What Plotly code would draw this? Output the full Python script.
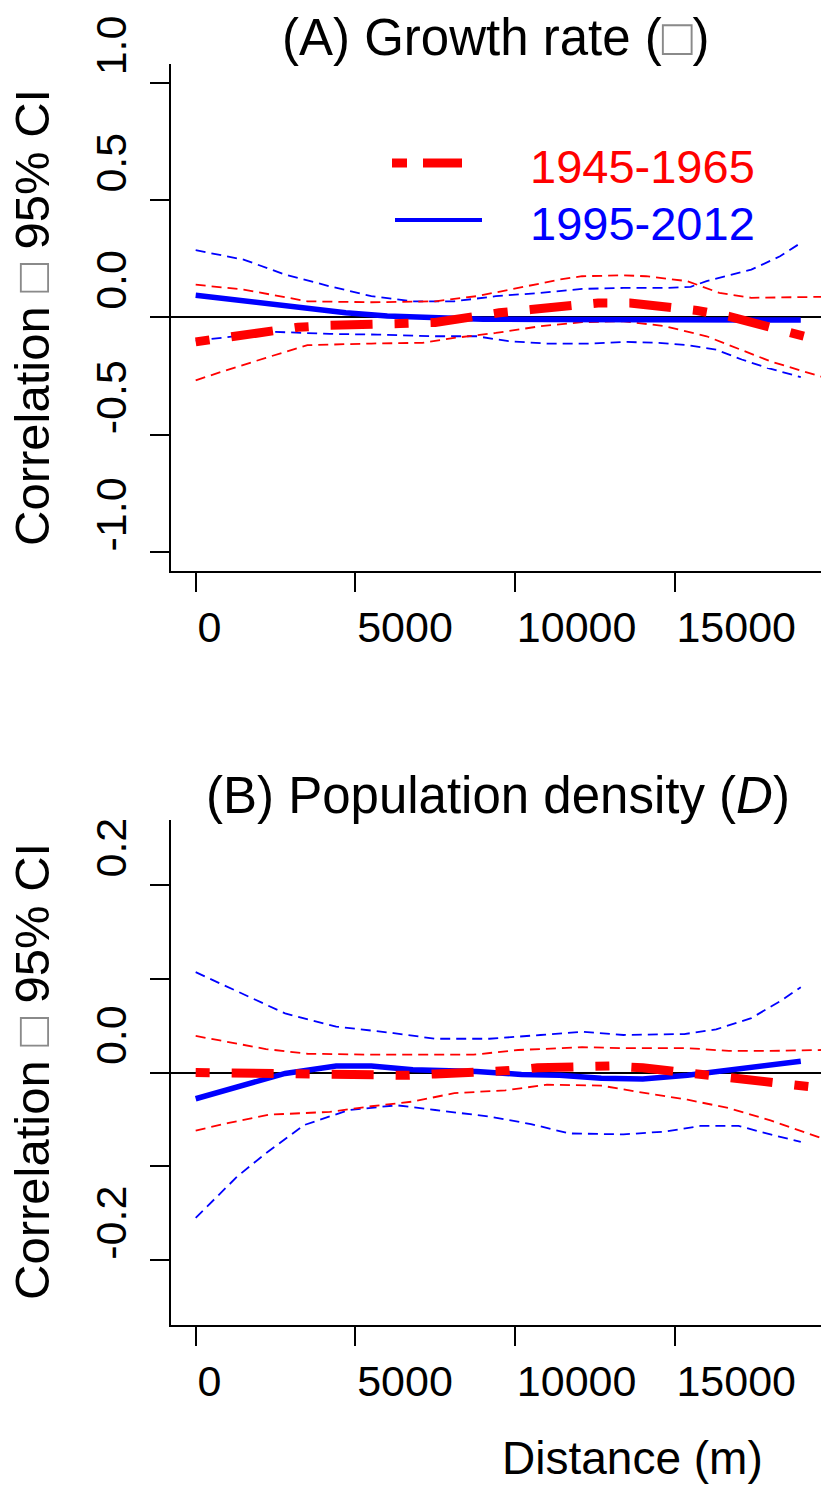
import plotly.graph_objects as go

# ---------------- data ----------------
# (A) growth rate: spatial correlation vs distance (m)
a_blue_x = [0, 1500, 3000, 4700, 6000, 7500, 9000, 11000, 13000, 15000, 17000, 18950]
a_blue_y = [0.094, 0.070, 0.042, 0.019, 0.005, -0.004, -0.008, -0.010, -0.010, -0.011, -0.012, -0.012]

a_red_x = [0, 1200, 2300, 3200, 4200, 5500, 6400, 7500, 8600, 9500, 10500, 11700,
           12600, 13600, 14800, 15700, 16700, 17800, 18700, 19300]
a_red_y = [-0.105, -0.081, -0.060, -0.043, -0.034, -0.034, -0.027, -0.022, 0.002, 0.019, 0.033, 0.054,
           0.061, 0.061, 0.047, 0.029, 0.004, -0.038, -0.070, -0.090]

a_blue_hi_x = [0, 1500, 2800, 4200, 5500, 6800, 8100, 9400, 10800, 12100, 13400, 14700, 15500, 16000, 17400, 18300, 18950]
a_blue_hi_y = [0.286, 0.246, 0.182, 0.132, 0.090, 0.068, 0.068, 0.090, 0.104, 0.121, 0.125, 0.125, 0.130, 0.154, 0.203, 0.260, 0.317]
a_blue_lo_x = [0, 2450, 4200, 5700, 7500, 8800, 9800, 11000, 12400, 13400, 14500, 15400, 16300, 17100, 17900, 18950]
a_blue_lo_y = [-0.100, -0.062, -0.071, -0.074, -0.081, -0.081, -0.102, -0.112, -0.112, -0.105, -0.109, -0.119, -0.138, -0.180, -0.216, -0.255]

a_red_hi_x = [0, 1500, 3500, 5500, 7500, 8800, 10100, 11400, 12100, 13400, 14100, 15400, 16400, 17400, 19600]
a_red_hi_y = [0.139, 0.118, 0.068, 0.064, 0.068, 0.090, 0.125, 0.161, 0.175, 0.179, 0.175, 0.154, 0.104, 0.083, 0.087]
a_red_lo_x = [0, 860, 2200, 3500, 5500, 7100, 8100, 9400, 10800, 12100, 13400, 14700, 16000, 17100, 18000, 19600]
a_red_lo_y = [-0.269, -0.230, -0.173, -0.119, -0.112, -0.109, -0.088, -0.067, -0.038, -0.021, -0.017, -0.038, -0.081, -0.138, -0.188, -0.254]

# (B) population density
b_blue_x = [0, 1500, 2800, 4400, 5500, 6800, 8800, 10200, 11400, 12700, 14000, 15400, 16700, 18000, 18950]
b_blue_y = [-0.028, -0.013, -0.001, 0.007, 0.007, 0.003, 0.001, -0.002, -0.003, -0.006, -0.007, -0.003, 0.003, 0.009, 0.012]

b_red_x = [0, 1500, 2500, 3300, 5000, 6600, 7500, 8900, 9800, 10700, 12000, 13000, 14000, 15200, 16100, 17000, 18300, 19450]
b_red_y = [0.000, -0.001, -0.0015, -0.003, -0.003, -0.003, -0.0015, 0.000, 0.002, 0.005, 0.007, 0.007, 0.005, 0.000, -0.002, -0.007, -0.012, -0.016]

b_blue_hi_x = [0, 1500, 2800, 4400, 6200, 7500, 9200, 10800, 12100, 13400, 15300, 16300, 17400, 18300, 18950]
b_blue_hi_y = [0.107, 0.083, 0.063, 0.049, 0.042, 0.036, 0.036, 0.040, 0.0435, 0.040, 0.041, 0.046, 0.058, 0.076, 0.091]
b_blue_lo_x = [0, 500, 1300, 2200, 3400, 4800, 6300, 7500, 9200, 10500, 11700, 13400, 14700, 15800, 17000, 18000, 18950]
b_blue_lo_y = [-0.155, -0.138, -0.111, -0.086, -0.056, -0.040, -0.035, -0.040, -0.047, -0.055, -0.065, -0.066, -0.063, -0.057, -0.057, -0.066, -0.074]

b_red_hi_x = [0, 900, 2200, 3500, 5500, 8700, 10100, 12100, 13400, 15400, 16700, 18000, 19600]
b_red_hi_y = [0.039, 0.033, 0.025, 0.020, 0.019, 0.019, 0.024, 0.027, 0.026, 0.026, 0.023, 0.023, 0.024]
b_red_lo_x = [0, 1000, 2300, 4200, 5500, 6800, 8100, 9700, 11000, 12700, 14100, 15400, 16700, 18000, 19600]
b_red_lo_y = [-0.062, -0.054, -0.045, -0.042, -0.036, -0.031, -0.022, -0.019, -0.013, -0.014, -0.022, -0.029, -0.038, -0.051, -0.070]

x_ticks = [0, 5000, 10000, 15000]
x_tick_text = ["0", "5000", "10000", "15000"]
a_y_ticks = [-1.0, -0.5, 0.0, 0.5, 1.0]
a_y_tick_text = ["-1.0", "-0.5", "0.0", "0.5", "1.0"]
b_y_ticks = [-0.2, -0.1, 0.0, 0.1, 0.2]
b_y_tick_text = ["-0.2", "", "0.0", "", "0.2"]

series_names = ["1945-1965", "1995-2012"]

# ---------------- styling ----------------
W, H = 821, 1486
RED, BLUE = "#ff0000", "#0000ff"
FONT = "Liberation Sans, Arial, sans-serif"
MAIN_DASH = "14px,22px,42px,22px"
CI_DASH = "10px,6px"
BOX = "<span style='color:#8a8a8a'>\u25a1</span>"


def px_x(p):
    return p / W


def px_y(p):
    return 1 - p / H


fig = go.Figure()


def add_panel(xa, ya, blue_hi, blue_lo, red_hi, red_lo, blue_mid, red_mid):
    for (xs, ys), col in ((blue_hi, BLUE), (blue_lo, BLUE), (red_hi, RED), (red_lo, RED)):
        fig.add_trace(go.Scatter(x=xs, y=ys, mode="lines", xaxis=xa, yaxis=ya, showlegend=False,
                                 line=dict(color=col, width=1.8, dash=CI_DASH)))
    fig.add_trace(go.Scatter(x=blue_mid[0], y=blue_mid[1], mode="lines", xaxis=xa, yaxis=ya,
                             showlegend=False, line=dict(color=BLUE, width=5.5)))
    fig.add_trace(go.Scatter(x=red_mid[0], y=red_mid[1], mode="lines", xaxis=xa, yaxis=ya,
                             showlegend=False, line=dict(color=RED, width=9, dash=MAIN_DASH)))


add_panel("x", "y", (a_blue_hi_x, a_blue_hi_y), (a_blue_lo_x, a_blue_lo_y),
          (a_red_hi_x, a_red_hi_y), (a_red_lo_x, a_red_lo_y),
          (a_blue_x, a_blue_y), (a_red_x, a_red_y))
add_panel("x2", "y2", (b_blue_hi_x, b_blue_hi_y), (b_blue_lo_x, b_blue_lo_y),
          (b_red_hi_x, b_red_hi_y), (b_red_lo_x, b_red_lo_y),
          (b_blue_x, b_blue_y), (b_red_x, b_red_y))

x_dom = [px_x(171), 1.0]
x_range = [-773, 19583]

common_x = dict(range=x_range, domain=x_dom, showgrid=False, zeroline=False, showline=True,
                linecolor="black", linewidth=2, ticks="outside", ticklen=19, tickwidth=1.6,
                tickcolor="black", tickvals=x_ticks, ticktext=x_tick_text,
                ticklabelposition="outside right", ticklabelstandoff=17,
                tickfont=dict(family=FONT, size=43, color="black"), automargin=False, fixedrange=True)
common_y = dict(showgrid=False, zeroline=True, zerolinecolor="black", zerolinewidth=2,
                showline=True, linecolor="black", linewidth=2, ticks="outside", ticklen=19,
                tickwidth=1.6, tickcolor="black", tickangle=-90,
                ticklabelposition="outside top", ticklabelstandoff=26,
                tickfont=dict(family=FONT, size=43, color="black"), automargin=False, fixedrange=True)

fig.update_layout(
    width=W, height=H,
    margin=dict(l=0, r=0, t=0, b=0),
    paper_bgcolor="white", plot_bgcolor="white",
    showlegend=False,
    xaxis=dict(common_x, anchor="y"),
    yaxis=dict(common_y, domain=[px_y(571), px_y(64)], range=[-1.082, 1.08],
               tickvals=a_y_ticks, ticktext=a_y_tick_text, anchor="x"),
    xaxis2=dict(common_x, anchor="y2"),
    yaxis2=dict(common_y, domain=[px_y(1325), px_y(820)], range=[-0.2693, 0.2693],
                tickvals=b_y_ticks, ticktext=b_y_tick_text, anchor="x2"),
)

# titles and axis labels
ann = [
    dict(text="(A) Growth rate (" + BOX + ")", x=px_x(496), y=px_y(38), size=51),
    dict(text="(B) Population density (<i>D</i>)", x=px_x(498), y=px_y(795), size=51),
]
for a in ann:
    fig.add_annotation(text=a["text"], x=a["x"], y=a["y"], xref="paper", yref="paper",
                       xanchor="center", yanchor="middle", showarrow=False,
                       font=dict(family=FONT, size=a["size"], color="black"))

for yc in (318, 1072):
    fig.add_annotation(text="Correlation " + BOX + " 95% CI", x=px_x(32), y=px_y(yc),
                       xref="paper", yref="paper", xanchor="center", yanchor="middle",
                       textangle=-90, showarrow=False,
                       font=dict(family=FONT, size=49, color="black"))

fig.add_annotation(text="Distance (m)", x=px_x(500), y=px_y(1458), xref="paper", yref="paper",
                   xanchor="left", yanchor="middle", showarrow=False,
                   font=dict(family=FONT, size=46, color="black"))

# legend (panel A)
fig.add_shape(type="line", xref="paper", yref="paper", x0=px_x(392), x1=px_x(462),
              y0=px_y(163), y1=px_y(163), line=dict(color=RED, width=9, dash="15px,16px,40px,40px"))
fig.add_shape(type="line", xref="paper", yref="paper", x0=px_x(395), x1=px_x(482),
              y0=px_y(220), y1=px_y(220), line=dict(color=BLUE, width=4))
for name, col, yc in ((series_names[0], RED, 167), (series_names[1], BLUE, 223)):
    fig.add_annotation(text=name, x=px_x(528), y=px_y(yc), xref="paper", yref="paper",
                       xanchor="left", yanchor="middle", showarrow=False,
                       font=dict(family=FONT, size=47, color=col))

fig.write_html("out.html")
